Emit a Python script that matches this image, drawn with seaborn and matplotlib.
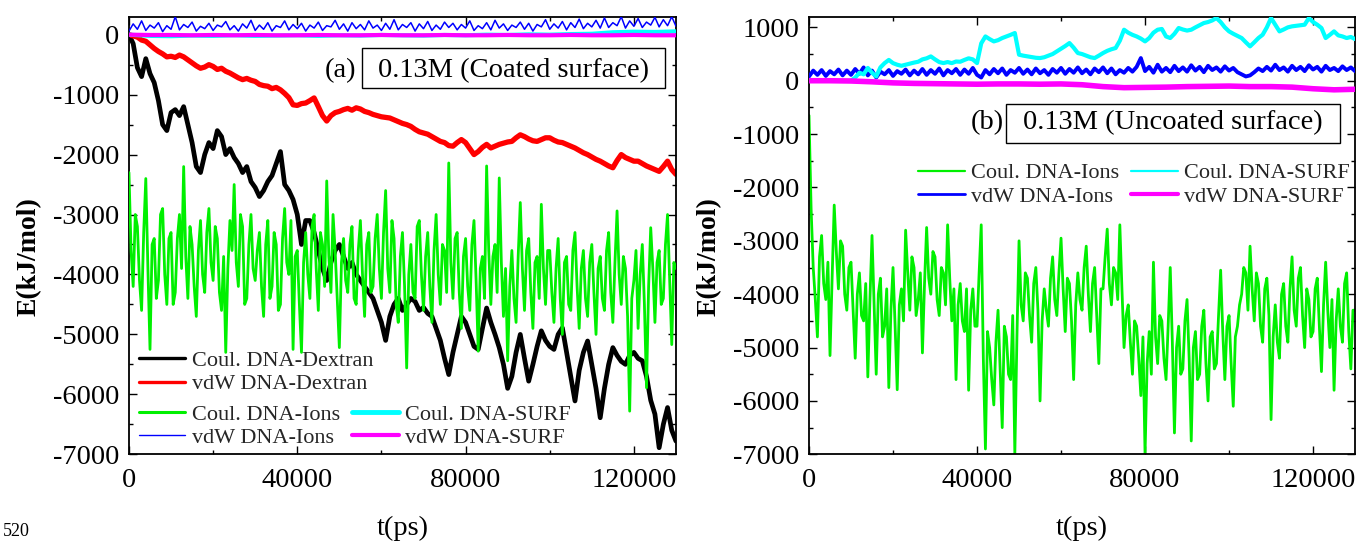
import numpy as np
import matplotlib
matplotlib.use("Agg")
import matplotlib.pyplot as plt
import seaborn as sns
from matplotlib.lines import Line2D
from matplotlib.patches import Rectangle
from matplotlib.ticker import FixedLocator, FixedFormatter, MultipleLocator

# ---------------- data (kJ/mol) ----------------
step_ions = 500      # Coulomb DNA-Ions series: one value every 500 ps
step_fine = 1000     # other detailed series: one value every 1000 ps
step_coarse = 5000   # near-flat series: one value every 5000 ps

# (a) coated surface
coul_dna_dextran_a = [
    0, -150, -550, -700, -400, -650, -800, -1100, -1500, -1600,
    -1300, -1250, -1350, -1200, -1500, -1800, -2200, -2300, -2000, -1800,
    -1900, -1600, -1700, -2000, -1900, -2050, -2150, -2300, -2200, -2450,
    -2550, -2700, -2600, -2450, -2350, -2150, -1950, -2500, -2600, -2750,
    -3000, -3500, -3100, -3100, -3300, -3600, -3900, -4100, -3800, -3600,
    -3500, -3700, -3900, -3800, -4000, -4100, -4200, -4300, -4400, -4600,
    -4800, -5100, -4700, -4500, -4400, -4600, -4500, -4400, -4450, -4600,
    -4550, -4650, -4700, -4900, -5100, -5400, -5670, -5300, -5000, -4700,
    -4800, -5000, -5200, -5250, -4900, -4560, -4800, -5000, -5220, -5500,
    -5900, -5700, -5300, -5000, -5400, -5780, -5500, -5200, -4940, -5100,
    -5200, -5250, -5000, -4890, -5300, -5700, -6110, -5600, -5300, -5110,
    -5500, -5900, -6390, -5900, -5500, -5220, -5350, -5450, -5500, -5350,
    -5300, -5400, -5440, -5700, -6100, -6330, -6890, -6500, -6220, -6600,
    -6780]

vdw_dna_dextran_a = [
    0, -20, -40, -90, -110, -170, -230, -280, -320, -370,
    -360, -380, -340, -370, -420, -470, -520, -560, -540, -500,
    -530, -580, -560, -610, -640, -680, -720, -750, -730, -760,
    -780, -830, -850, -860, -900, -880, -920, -980, -1050, -1170,
    -1180, -1150, -1140, -1100, -1055, -1200, -1350, -1440, -1350, -1300,
    -1280, -1250, -1230, -1260, -1220, -1240, -1280, -1300, -1330, -1350,
    -1370, -1380, -1390, -1420, -1450, -1480, -1500, -1530, -1580, -1620,
    -1640, -1660, -1700, -1740, -1780, -1800, -1850, -1860, -1800, -1750,
    -1800, -1900, -2000, -1950, -1880, -1830, -1890, -1860, -1830, -1810,
    -1790, -1780, -1720, -1670, -1700, -1740, -1770, -1780, -1750, -1720,
    -1720, -1760, -1790, -1800, -1830, -1860, -1890, -1930, -1970, -2000,
    -2040, -2080, -2110, -2150, -2190, -2220, -2100, -2000, -2050, -2080,
    -2110, -2110, -2150, -2190, -2220, -2250, -2280, -2200, -2110, -2250,
    -2330]

coul_dna_ions_a = [
    -2300, -3600, -4200, -3000, -3200, -4100, -4600, -3300, -2400, -3900,
    -5250, -3500, -3400, -4400, -4100, -3000, -2900, -4000, -4500, -3400,
    -3300, -4500, -4300, -3400, -3000, -3900, -2200, -3700, -4400, -3200,
    -3500, -4200, -4700, -3600, -3100, -4000, -4300, -3300, -2900, -3800,
    -4100, -3200, -3400, -4300, -4600, -3700, -5300, -3900, -3100, -3600,
    -2500, -3800, -4200, -3000, -3200, -4500, -4400, -3500, -3000, -3900,
    -4100, -3600, -3300, -4200, -4700, -3500, -3100, -4400, -4200, -3300,
    -3500, -4600, -4500, -3400, -2900, -3800, -4000, -3100, -5250, -3700,
    -3600, -4500, -5300, -3800, -3300, -4000, -4400, -3200, -3000, -3900,
    -4600, -3300, -3500, -4200, -2440, -3700, -4300, -3000, -3600, -4400,
    -5220, -3800, -3400, -4100, -4300, -3500, -3200, -4400, -4500, -3600,
    -3100, -4000, -4700, -3500, -3300, -4300, -4200, -3400, -3000, -3900,
    -4400, -3300, -2600, -3900, -4300, -3100, -3400, -4500, -4800, -3700,
    -3300, -4200, -5560, -4000, -3500, -4300, -4400, -3200, -3100, -4000,
    -4600, -3700, -3300, -4200, -4800, -3600, -3000, -4000, -4500, -3500,
    -3600, -4300, -2140, -3800, -4400, -3400, -3300, -4300, -4900, -3700,
    -3400, -4200, -4600, -3500, -3100, -4100, -5280, -3900, -3700, -4400,
    -2190, -3600, -4500, -3700, -3500, -4300, -2390, -3800, -4700, -3900,
    -5440, -4200, -3600, -4400, -4800, -3700, -2800, -3900, -4600, -3600,
    -3400, -4300, -4900, -3800, -3700, -4400, -2830, -3900, -4500, -3600,
    -3600, -4300, -4800, -3900, -3400, -4400, -5000, -3800, -3700, -4500,
    -4600, -3600, -3300, -4200, -4900, -3900, -3600, -4400, -4700, -3800,
    -3500, -4300, -5000, -3900, -3700, -4400, -4600, -3600, -3300, -4300,
    -4800, -3800, -2940, -4000, -4500, -3700, -3900, -4700, -6280, -4400,
    -4100, -3600, -4900, -4000, -3500, -4500, -5890, -4200, -3220, -3900,
    -4800, -3800, -3600, -4500, -4400, -3500, -3000, -4100, -5170, -3800,
    -3900]

vdw_dna_ions_a = [
    60, 180, 90, 230, 70, 160, 110, 200, 50, 150,
    90, 300, 80, 170, 120, 210, 60, 140, 100, 190,
    70, 160, 130, 220, 80, 150, 60, 180, 110, 240,
    70, 160, 90, 200, 60, 150, 120, 230, 80, 170,
    100, 190, 60, 160, 110, 210, 70, 150, 130, 240,
    90, 180, 60, 200, 100, 170, 80, 230, 110, 160,
    70, 190, 90, 250, 80, 170, 120, 200, 60, 180,
    100, 220, 70, 160, 90, 210, 120, 190, 80, 170,
    110, 230, 70, 150, 100, 200, 80, 240, 110, 180,
    70, 160, 120, 210, 90, 190, 60, 170, 130, 250,
    90, 180, 110, 220, 80, 200, 120, 260, 100, 190,
    130, 240, 110, 280, 120, 200, 150, 300, 110, 230,
    140, 270, 120, 210, 160, 290, 130, 250, 150, 300,
    140]

coul_dna_surf_a = [0, -20, -25, -15, -20, -10, -20, -15, -10, -20, -10, -15, -5, -10,
                   -15, -5, -10, 0, -5, 5, 0, 10, 15, 40, 50, 45, 55]
vdw_dna_surf_a = [0, -5, -5, -10, -5, -10, -5, -10, -10, -5, -10, -10, -5, -10,
                  -10, -5, -10, -10, -5, -10, -10, -5, -10, -10, -5, -10, -10]

# (b) uncoated surface
coul_dna_ions_b = [
    -650, -2400, -3500, -4100, -4800, -3300, -2900, -3800, -4100, -3400,
    -5150, -3700, -2330, -3200, -3900, -3000, -3100, -4000, -4300, -3500,
    -3400, -4300, -5200, -4000, -3600, -4400, -4500, -3800, -5550, -4100,
    -2900, -4200, -5500, -4000, -3700, -4800, -4600, -3900, -5750, -4300,
    -3500, -4600, -5790, -4200, -3900, -4500, -2800, -3600, -4300, -3300,
    -3500, -4400, -4100, -3600, -5100, -3800, -2750, -3700, -4000, -3200,
    -3300, -4100, -4400, -3500, -3600, -4200, -2700, -3700, -4500, -3900,
    -5600, -4200, -3800, -4500, -4700, -3900, -5800, -4300, -3900, -4600,
    -4600, -3600, -2700, -5200, -6900, -4700, -5000, -5600, -6075, -4900,
    -4300, -5400, -6500, -4600, -4800, -5500, -5600, -4400, -7000, -4800,
    -3000, -4200, -4500, -3600, -3700, -4400, -4900, -3800, -3500, -4300,
    -6000, -4500, -3900, -4300, -4600, -3700, -3300, -4100, -4400, -3600,
    -2950, -3900, -4700, -3700, -3800, -4500, -5600, -4200, -3600, -4100,
    -4300, -3500, -3100, -4000, -4700, -3800, -3500, -4400, -5300, -3900,
    -3900, -3300, -2780, -3800, -4200, -3500, -3600, -4100, -2700, -3900,
    -5000, -4400, -4200, -4900, -5500, -4500, -4600, -5200, -5900, -4800,
    -7000, -5300, -4700, -5500, -3400, -4800, -5300, -4400, -4500, -5200,
    -5600, -4600, -3500, -4900, -6600, -5000, -4600, -5500, -5400, -4500,
    -4100, -5200, -6750, -5000, -4700, -5600, -5500, -4600, -4300, -5300,
    -6000, -4800, -4700, -5400, -5300, -4400, -3550, -4700, -5600, -4600,
    -4400, -5300, -6100, -4800, -4600, -4200, -4000, -3500, -3600, -4300,
    -3100, -3900, -4500, -3600, -3800, -4600, -4900, -3900, -3700, -4400,
    -6350, -4800, -4200, -4900, -5200, -4000, -3800, -4600, -4900, -3900,
    -3300, -4300, -4600, -3700, -3500, -4400, -5000, -3900, -4100, -4800,
    -4700, -3900, -3700, -4600, -5450, -4200, -3400, -4300, -5000, -4100,
    -5800, -4500, -3900, -4600, -4900, -3800, -3600, -4700, -5400, -4300,
    -4300]

vdw_dna_ions_b = [
    80, 190, 110, 200, 90, 180, 120, 210, 100, 190,
    110, 220, 130, 250, 100, 190, 60, 170, 120, 200,
    90, 180, 130, 210, 100, 190, 120, 220, 110, 200,
    130, 230, 100, 200, 140, 220, 110, 210, 130, 240,
    110, 60, 200, 120, 220, 140, 230, 110, 200, 150,
    240, 130, 210, 120, 230, 140, 200, 110, 220, 150,
    240, 130, 220, 150, 250, 140, 210, 120, 230, 160,
    250, 140, 230, 120, 200, 150, 240, 170, 260, 425,
    180, 260, 150, 300, 170, 240, 160, 280, 180, 250,
    170, 290, 190, 260, 160, 280, 200, 250, 170, 270,
    190, 240, 160, 120, 80, 100, 160, 230, 180, 260,
    190, 300, 200, 250, 170, 280, 200, 260, 180, 290,
    210, 260, 170, 280, 200, 240, 180, 270, 200, 250,
    180]

coul_dna_surf_b = [
    0, 0, 0, 0, 0, 0, 0, 0, 0, 0,
    0, 60, 150, 120, 240, 150, 80, 250, 330, 390,
    330, 300, 280, 300, 320, 340, 356, 400, 420, 456,
    400, 350, 331, 350, 330, 360, 356, 390, 420, 400,
    331, 700, 830, 780, 737, 760, 800, 830, 860, 894,
    488, 470, 456, 440, 430, 425, 440, 470, 500, 550,
    600, 650, 706, 620, 519, 500, 470, 440, 425, 470,
    519, 560, 590, 613, 750, 956, 900, 860, 830, 790,
    737, 800, 900, 956, 970, 830, 800, 880, 988, 960,
    940, 956, 1000, 1040, 1081, 1100, 1130, 1175, 1100, 1000,
    925, 880, 840, 800, 720, 644, 720, 800, 862, 1000,
    1175, 1050, 925, 960, 1000, 1019, 1030, 1040, 1050, 1175,
    1100, 1050, 988, 800, 860, 925, 850, 830, 800, 820,
    780]

vdw_dna_surf_b = [0, 0, -5, -20, -40, -50, -55, -60, -65, -60, -60, -65, -60, -75,
                  -110, -130, -125, -120, -110, -105, -100, -110, -110, -120, -150, -170, -160]

x_ticks = [0, 40000, 80000, 120000]
x_tick_labels = ["0", "40000", "80000", "120000"]
y_ticks_a = [-7000, -6000, -5000, -4000, -3000, -2000, -1000, 0]
y_ticks_b = [-7000, -6000, -5000, -4000, -3000, -2000, -1000, 0, 1000]

# ---------------- style ----------------
sns.set_theme(style="ticks")
plt.rcParams['font.family'] = ['Liberation Serif', 'DejaVu Serif']
plt.rcParams['axes.unicode_minus'] = False

C_BLACK, C_RED, C_GREEN = "#000000", "#ff0000", "#00f000"
C_BLUE, C_CYAN, C_MAG = "#0000ff", "#00ffff", "#ff00ff"

fig = plt.figure(figsize=(13.59, 5.42), dpi=100)
axA = fig.add_axes([0.0949, 0.1618, 0.4025, 0.8074])
axB = fig.add_axes([0.5953, 0.1618, 0.4018, 0.8074])


def tgrid(v, step):
    return np.arange(len(v)) * step


def draw(ax, y, step, color, lw, z):
    sns.lineplot(x=tgrid(y, step), y=y, ax=ax, color=color, linewidth=lw,
                 estimator=None, legend=False, zorder=z)


# panel (a)
draw(axA, coul_dna_dextran_a, step_fine, C_BLACK, 3.4, 2)
draw(axA, vdw_dna_dextran_a, step_fine, C_RED, 3.8, 2)
draw(axA, coul_dna_ions_a, step_ions, C_GREEN, 2.0, 3)
draw(axA, vdw_dna_ions_a, step_fine, C_BLUE, 1.1, 4)
draw(axA, coul_dna_surf_a, step_coarse, C_CYAN, 3.0, 5)
draw(axA, vdw_dna_surf_a, step_coarse, C_MAG, 3.0, 6)

# panel (b)
draw(axB, coul_dna_ions_b, step_ions, C_GREEN, 2.0, 2)
draw(axB, vdw_dna_ions_b, step_fine, C_BLUE, 2.8, 3)
draw(axB, coul_dna_surf_b, step_fine, C_CYAN, 3.0, 4)
draw(axB, vdw_dna_surf_b, step_coarse, C_MAG, 4.0, 5)


def style_axis(ax, yticks, ylim):
    ax.set_xlim(0, 130000)
    ax.set_ylim(*ylim)
    ax.xaxis.set_major_locator(FixedLocator(x_ticks))
    ax.xaxis.set_major_formatter(FixedFormatter(x_tick_labels))
    ax.xaxis.set_minor_locator(MultipleLocator(20000))
    ax.yaxis.set_major_locator(FixedLocator(yticks))
    ax.yaxis.set_major_formatter(FixedFormatter([str(v) for v in yticks]))
    ax.yaxis.set_minor_locator(MultipleLocator(500))
    ax.tick_params(which='both', direction='in', top=True, right=True,
                   colors='black', width=1.0)
    ax.tick_params(which='major', length=6, labelsize=20.5)
    ax.tick_params(axis='x', which='major', pad=10)
    ax.tick_params(axis='y', which='major', pad=7)
    ax.tick_params(which='minor', length=3)
    for s in ax.spines.values():
        s.set_visible(True)
        s.set_color('black')
        s.set_linewidth(1.3)
    ax.set_facecolor('white')
    ax.set_xlabel("t(ps)", fontsize=20.5, color='black')
    ax.set_ylabel("E(kJ/mol)", fontsize=20, fontweight='bold', color='black')
    ax.xaxis.set_label_coords(0.5, -0.14)
    ax.yaxis.set_label_coords(-0.16, 0.453)


style_axis(axA, y_ticks_a, (-7000, 300))
style_axis(axB, y_ticks_b, (-7000, 1200))

# annotation boxes
axA.add_patch(Rectangle((0.426, 0.8377), 0.554, 0.090, transform=axA.transAxes,
                        facecolor='white', edgecolor='black', linewidth=1.0, zorder=7))
axA.text(0.703, 0.876, "0.13M (Coated surface)", transform=axA.transAxes,
         ha='center', va='center', fontsize=20.5, color='black', zorder=8)
axA.text(0.3876, 0.876, "(a)", transform=axA.transAxes,
         ha='center', va='center', fontsize=20.5, color='black', zorder=8)

axB.add_patch(Rectangle((0.361, 0.7125), 0.612, 0.0882, transform=axB.transAxes,
                        facecolor='white', edgecolor='black', linewidth=1.0, zorder=7))
axB.text(0.667, 0.758, "0.13M (Uncoated surface)", transform=axB.transAxes,
         ha='center', va='center', fontsize=20.5, color='black', zorder=8)
axB.text(0.326, 0.758, "(b)", transform=axB.transAxes,
         ha='center', va='center', fontsize=20.5, color='black', zorder=8)

# legends
leg_kw = dict(frameon=False, fontsize=16, handlelength=2.1, handletextpad=0.28,
              borderpad=0.0, borderaxespad=0.0, labelspacing=0.12, columnspacing=0.55)

hA1 = [Line2D([], [], color=C_BLACK, lw=2.4), Line2D([], [], color=C_RED, lw=2.4)]
legA1 = axA.legend(hA1, ["Coul. DNA-Dextran", "vdW DNA-Dextran"], loc='center left',
                   bbox_to_anchor=(0.018, 0.187), **leg_kw)
legA1.set_zorder(9)
axA.add_artist(legA1)
hA2 = [Line2D([], [], color=C_GREEN, lw=2.2), Line2D([], [], color=C_BLUE, lw=1.0),
       Line2D([], [], color=C_CYAN, lw=3.5), Line2D([], [], color=C_MAG, lw=3.0)]
legA2 = axA.legend(hA2, ["Coul. DNA-Ions", "vdW DNA-Ions", "Coul. DNA-SURF", "vdW DNA-SURF"],
                   loc='center left', bbox_to_anchor=(0.018, 0.065), ncol=2, **leg_kw)
legA2.set_zorder(9)

hB = [Line2D([], [], color=C_GREEN, lw=1.6), Line2D([], [], color=C_BLUE, lw=2.0),
      Line2D([], [], color=C_CYAN, lw=1.6), Line2D([], [], color=C_MAG, lw=3.0)]
legB = axB.legend(hB, ["Coul. DNA-Ions", "vdW DNA-Ions", "Coul. DNA-SURF", "vdW DNA-SURF"],
                  loc='center left', bbox_to_anchor=(0.2, 0.616), ncol=2, **leg_kw)
legB.set_zorder(9)

fig.text(0.002, 0.003, "520", fontsize=13, color='black', ha='left', va='bottom')

fig.savefig("out.png", dpi=100, facecolor='white')
